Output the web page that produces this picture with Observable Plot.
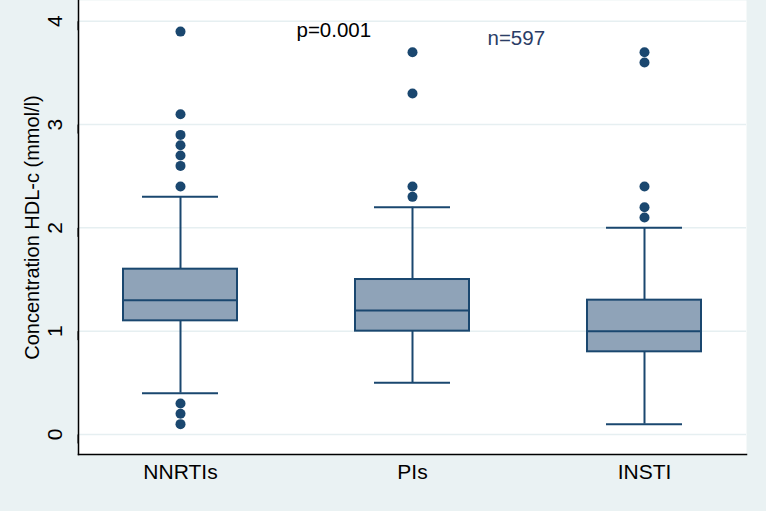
<!DOCTYPE html>
<html>
<head>
<meta charset="utf-8">
<script src="https://cdn.jsdelivr.net/npm/d3@7"></script>
<script src="https://cdn.jsdelivr.net/npm/@observablehq/plot@0.6"></script>
<style>
  html, body { margin: 0; padding: 0; background: #eaf2f3; }
  #chart { width: 766px; height: 511px; }
</style>
</head>
<body>
<div id="chart"></div>
<script>
// ---- data ----
const categories = ["NNRTIs", "PIs", "INSTI"];
const q1 = [1.1, 1.0, 0.8];
const medians = [1.3, 1.2, 1.0];
const q3 = [1.6, 1.5, 1.3];
const whiskerLow = [0.4, 0.5, 0.1];
const whiskerHigh = [2.3, 2.2, 2.0];
const outliersNNRTIs = [0.1, 0.2, 0.3, 2.4, 2.6, 2.7, 2.8, 2.9, 3.1, 3.9];
const outliersPIs = [2.3, 2.4, 3.3, 3.7];
const outliersINSTI = [2.1, 2.2, 2.4, 3.6, 3.7];
const yTicks = [0, 1, 2, 3, 4];
const yTitle = "Concentration HDL-c (mmol/l)";
const pText = "p=0.001";
const nText = "n=597";

// ---- build tables ----
const boxes = categories.map((c, i) => ({
  cat: c, q1: q1[i], med: medians[i], q3: q3[i], lo: whiskerLow[i], hi: whiskerHigh[i]
}));
const outlierLists = [outliersNNRTIs, outliersPIs, outliersINSTI];
const outliers = categories.flatMap((c, i) => outlierLists[i].map(v => ({cat: c, v})));

const navy = "#1a476f";
const boxFill = "#8fa3b8";
const grid = "#e6eff1";
const font = "'Liberation Sans', Arial, Helvetica, sans-serif";

const chart = Plot.plot({
  width: 766,
  height: 511,
  marginLeft: 78,
  marginRight: 20,
  marginTop: 0,
  marginBottom: 57,
  style: {background: "#eaf2f3", fontFamily: font, fontSize: "20px", color: "black", overflow: "visible"},
  x: {domain: categories, paddingInner: 0.51, paddingOuter: 0.19, label: null},
  y: {domain: [-0.194, 4.201], label: null},
  marks: [
    Plot.frame({fill: "white", stroke: null}),
    Plot.ruleY(yTicks, {stroke: grid, strokeWidth: 1.5}),
    Plot.ruleX(boxes, {x: "cat", y1: "lo", y2: "hi", stroke: navy, strokeWidth: 2}),
    Plot.barY(boxes, {x: "cat", y1: "q1", y2: "q3", fill: boxFill, stroke: navy, strokeWidth: 2}),
    Plot.tickY(boxes, {x: "cat", y: "med", stroke: navy, strokeWidth: 2}),
    Plot.tickY(boxes, {x: "cat", y: "lo", stroke: navy, strokeWidth: 2, inset: 19}),
    Plot.tickY(boxes, {x: "cat", y: "hi", stroke: navy, strokeWidth: 2, inset: 19}),
    Plot.dot(outliers, {x: "cat", y: "v", r: 5, fill: navy, stroke: null}),
    Plot.axisY({ticks: yTicks, tickFormat: d => String(d), tickSize: 9, tickPadding: 14, rotate: -90, textAnchor: "middle", label: null, fontSize: 21, stroke: "black"}),
    Plot.axisX({tickSize: 0, tickPadding: 10, label: null, fontSize: 21}),
    Plot.frame({anchor: "left", stroke: "black", strokeWidth: 1.5}),
    Plot.frame({anchor: "bottom", stroke: "black", strokeWidth: 1.5}),
    Plot.text([yTitle], {frameAnchor: "left", textAnchor: "middle", dx: -46, rotate: -90, fontSize: 20, fill: "black", text: d => d}),
    Plot.text([pText], {frameAnchor: "top-left", dx: 218, dy: 21.6, textAnchor: "start", fontSize: 20.5, fill: "black", text: d => d}),
    Plot.text([nText], {frameAnchor: "top-left", dx: 409, dy: 29.6, textAnchor: "start", fontSize: 20.5, fill: "#2b3d66", text: d => d})
  ]
});
document.getElementById("chart").appendChild(chart);
</script>
</body>
</html>
